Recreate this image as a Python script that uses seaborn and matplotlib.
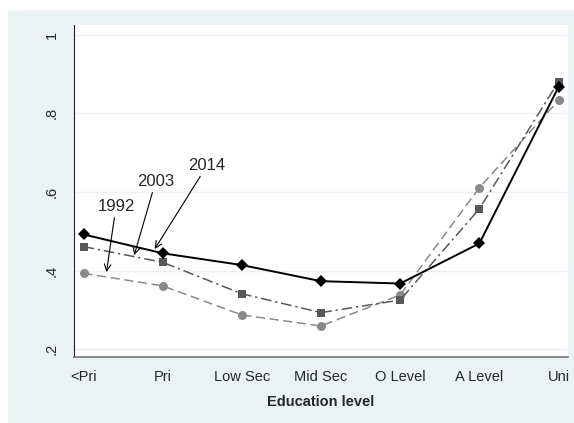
import numpy as np
import pandas as pd
import matplotlib
matplotlib.use("Agg")
import matplotlib.pyplot as plt
import seaborn as sns
from matplotlib.patches import Rectangle

# --- data ---
levels = ["<Pri", "Pri", "Low Sec", "Mid Sec", "O Level", "A Level", "Uni"]
y1992 = [0.393, 0.361, 0.287, 0.259, 0.338, 0.611, 0.833]
y2003 = [0.461, 0.421, 0.341, 0.293, 0.325, 0.557, 0.881]
y2014 = [0.492, 0.444, 0.414, 0.373, 0.367, 0.469, 0.867]
yticks = [0.2, 0.4, 0.6, 0.8, 1.0]
ytick_labels = [".2", ".4", ".6", ".8", "1"]

df = pd.DataFrame({
    "level": np.tile(np.arange(len(levels)), 3),
    "share": y1992 + y2003 + y2014,
    "year": ["1992"] * 7 + ["2003"] * 7 + ["2014"] * 7,
})

sns.set_style("white")
plt.rcParams['font.family'] = ['Liberation Sans', 'DejaVu Sans']

bg = "#eaf2f3"
fig = plt.figure(figsize=(5.74, 4.23), dpi=100)
fig.patches.append(Rectangle((8 / 574, 0), 1, 1 - 10 / 423, transform=fig.transFigure,
                             facecolor=bg, edgecolor="none", zorder=-10))
ax = fig.add_axes([74 / 574, (423 - 357) / 423, (568 - 74) / 574, (357 - 25) / 423])

styles = {
    "1992": dict(color="#8a8a8a", marker="o", dashes=(6, 3), lw=1.1, ms=6.5),
    "2003": dict(color="#585858", marker="s", dashes=(7, 2.5, 1.5, 2.5), lw=1.1, ms=6),
    "2014": dict(color="black", marker="D", dashes=None, lw=1.4, ms=6.5),
}
for yr in ["1992", "2003", "2014"]:
    s = styles[yr]
    sns.lineplot(data=df[df.year == yr], x="level", y="share", ax=ax,
                 color=s["color"], marker=s["marker"], markersize=s["ms"],
                 markeredgewidth=0, linewidth=s["lw"], legend=False)
    if s["dashes"] is not None:
        ax.lines[-1].set_dashes(s["dashes"])

ax.set_xlim(-0.12, 6.12)
ax.set_ylim(0.18, 1.025)
ax.set_xticks(range(len(levels)))
ax.set_xticklabels(levels, fontsize=10.5)
ax.set_yticks(yticks)
ax.set_yticklabels(ytick_labels, fontsize=10.5, rotation=90, va="center")
ax.tick_params(axis="both", direction="out", length=5, width=0.8, color="#333333", pad=4)
ax.tick_params(axis="y", pad=6)
for y in yticks:
    ax.axhline(y, color=bg, lw=1.0, zorder=0)
ax.spines["top"].set_visible(False)
ax.spines["right"].set_visible(False)
ax.spines["left"].set_color("#222222")
ax.spines["bottom"].set_color("#777777")
ax.spines["bottom"].set_linewidth(1.2)
ax.set_xlabel("Education level", fontsize=10.5, fontweight="bold", labelpad=8)
ax.set_ylabel("")

# arrow annotations labelling each series
arrow = dict(arrowstyle="->", color="black", lw=0.8, shrinkA=0, shrinkB=0)
ax.annotate("1992", xy=(0.29, 0.396), xytext=(0.41, 0.562), fontsize=12,
            ha="center", va="center", arrowprops=arrow)
ax.annotate("2003", xy=(0.64, 0.439), xytext=(0.91, 0.626), fontsize=12,
            ha="center", va="center", arrowprops=arrow)
ax.annotate("2014", xy=(0.90, 0.455), xytext=(1.56, 0.667), fontsize=12,
            ha="center", va="center", arrowprops=arrow)

fig.savefig("out.png", dpi=100)
